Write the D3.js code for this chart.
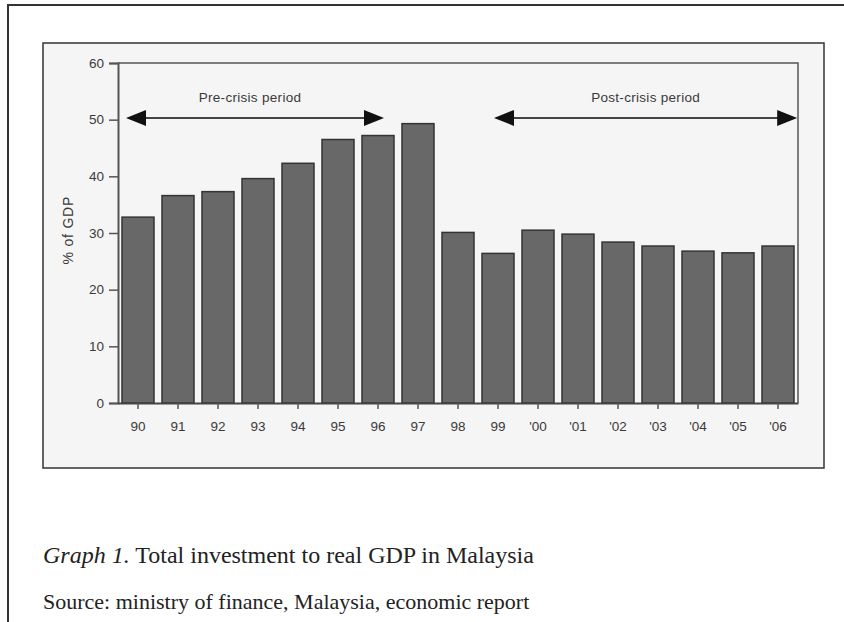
<!DOCTYPE html>
<html>
<head>
<meta charset="utf-8">
<script src="https://cdn.jsdelivr.net/npm/d3@7"></script>
<style>
body { margin: 0; background: #fff; }
svg { display: block; }
.tick text { font-family: "Liberation Sans", Arial, sans-serif; font-size: 13.5px; fill: #3a3a3a; }
</style>
</head>
<body>
<svg id="chart" width="844" height="622"></svg>
<script>
// data
const years = ["90", "91", "92", "93", "94", "95", "96", "97", "98", "99",
  "'00", "'01", "'02", "'03", "'04", "'05", "'06"];
const investment = [32.8, 36.6, 37.3, 39.6, 42.3, 46.5, 47.2, 49.3, 30.1, 26.4,
  30.5, 29.8, 28.4, 27.7, 26.8, 26.5, 27.7];
const yTicks = [0, 10, 20, 30, 40, 50, 60];
// period arrows, in category-index units (0 = centre of "90")
const periodLabels = ["Pre-crisis period", "Post-crisis period"];
const periodStart = [-0.3, 8.9];
const periodEnd = [6.15, 16.48];
const periodLevel = 50.3;

const svg = d3.select("#chart");

// outer page frame
svg.append("path")
  .attr("d", "M8,622V5H844")
  .attr("fill", "none")
  .attr("stroke", "#333")
  .attr("stroke-width", 2);

// grey chart panel
svg.append("rect")
  .attr("x", 43).attr("y", 43)
  .attr("width", 781).attr("height", 425)
  .attr("fill", "#f5f5f5")
  .attr("stroke", "#333")
  .attr("stroke-width", 1.5);

const plotL = 118, plotR = 798, plotT = 63, plotB = 403;

const x = d3.scaleBand()
  .domain(years)
  .range([plotL, plotR])
  .paddingInner(0.2)
  .paddingOuter(0.1);

const y = d3.scaleLinear()
  .domain([0, 60])
  .range([plotB, plotT]);

const xi = d3.scaleLinear()
  .domain([0, years.length - 1])
  .range([x(years[0]) + x.bandwidth() / 2, x(years[years.length - 1]) + x.bandwidth() / 2]);

// bars
svg.append("g")
  .selectAll("rect")
  .data(investment)
  .join("rect")
  .attr("x", (d, i) => x(years[i]))
  .attr("y", d => y(d))
  .attr("width", x.bandwidth())
  .attr("height", d => y(0) - y(d))
  .attr("fill", "#686868")
  .attr("stroke", "#333")
  .attr("stroke-width", 1.5);

// frame top and right
svg.append("path")
  .attr("d", `M${plotL},${plotT}H${plotR}V${plotB}`)
  .attr("fill", "none")
  .attr("stroke", "#555")
  .attr("stroke-width", 1.5);

// axes
const yAxis = svg.append("g")
  .attr("transform", `translate(${plotL},0)`)
  .call(d3.axisLeft(y).tickValues(yTicks).tickSize(9).tickPadding(5));
yAxis.select(".domain").attr("stroke", "#555").attr("stroke-width", 2);
yAxis.selectAll(".tick line").attr("stroke", "#555").attr("stroke-width", 1.5);

const xAxis = svg.append("g")
  .attr("transform", `translate(0,${plotB})`)
  .call(d3.axisBottom(x).tickSizeInner(6).tickSizeOuter(0).tickPadding(12));
xAxis.select(".domain").attr("stroke", "#444").attr("stroke-width", 2);
xAxis.selectAll(".tick line").attr("stroke", "#555").attr("stroke-width", 1.5);

// y title
svg.append("text")
  .attr("transform", `translate(68,${y(30.5)}) rotate(-90)`)
  .attr("text-anchor", "middle")
  .attr("dy", "0.35em")
  .attr("font-family", "Liberation Sans, Arial, sans-serif")
  .attr("font-size", 14)
  .attr("letter-spacing", 0.8)
  .attr("fill", "#3a3a3a")
  .text("% of GDP");

// period arrows
const arrowLen = 20, arrowHalf = 8;
periodLabels.forEach((label, i) => {
  const x0 = xi(periodStart[i]), x1 = xi(periodEnd[i]), ay = y(periodLevel);
  svg.append("line")
    .attr("x1", x0 + arrowLen - 2).attr("x2", x1 - arrowLen + 2)
    .attr("y1", ay).attr("y2", ay)
    .attr("stroke", "#444")
    .attr("stroke-width", 2);
  svg.append("path")
    .attr("d", `M${x0},${ay}L${x0 + arrowLen},${ay - arrowHalf}L${x0 + arrowLen},${ay + arrowHalf}Z`)
    .attr("fill", "#111");
  svg.append("path")
    .attr("d", `M${x1},${ay}L${x1 - arrowLen},${ay - arrowHalf}L${x1 - arrowLen},${ay + arrowHalf}Z`)
    .attr("fill", "#111");
  svg.append("text")
    .attr("x", (x0 + x1) / 2 + (i === 0 ? -5 : 0))
    .attr("y", ay - 16)
    .attr("text-anchor", "middle")
    .attr("font-family", "Liberation Sans, Arial, sans-serif")
    .attr("font-size", 13.5)
    .attr("letter-spacing", 0.3)
    .attr("fill", "#3a3a3a")
    .text(label);
});

// caption
const cap = svg.append("text")
  .attr("x", 43).attr("y", 563)
  .attr("font-family", "Liberation Serif, Times New Roman, serif")
  .attr("font-size", 24)
  .attr("fill", "#222");
cap.append("tspan").attr("font-style", "italic").text("Graph 1.");
cap.append("tspan").text(" Total investment to real GDP in Malaysia");

svg.append("text")
  .attr("x", 43).attr("y", 609)
  .attr("font-family", "Liberation Serif, Times New Roman, serif")
  .attr("font-size", 22)
  .attr("fill", "#222")
  .text("Source: ministry of finance, Malaysia, economic report");
</script>
</body>
</html>
